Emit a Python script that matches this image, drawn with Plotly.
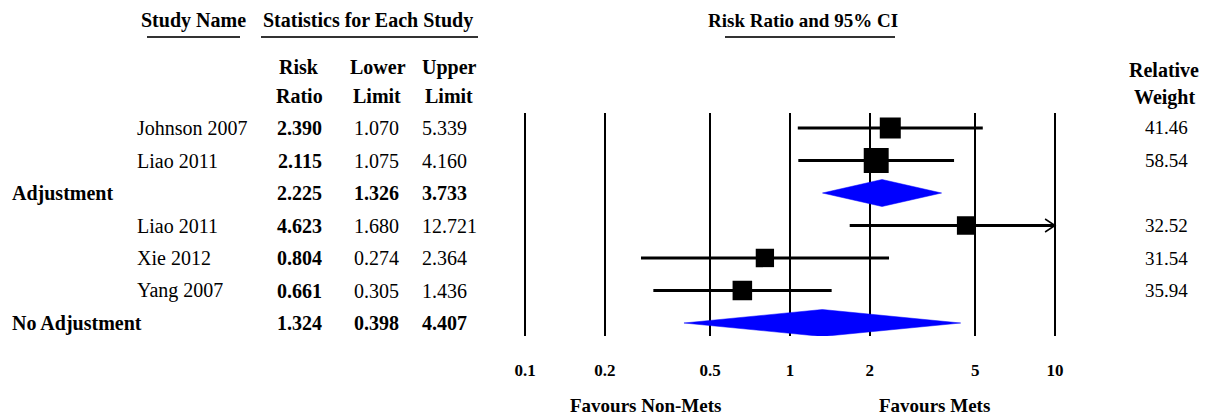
import math
import plotly.graph_objects as go

# ---------------- data ----------------
study_names = ["Johnson 2007", "Liao 2011", "Adjustment", "Liao 2011", "Xie 2012", "Yang 2007", "No Adjustment"]
is_summary = [False, False, True, False, False, False, True]
risk_ratio = [2.390, 2.115, 2.225, 4.623, 0.804, 0.661, 1.324]
lower_limit = [1.070, 1.075, 1.326, 1.680, 0.274, 0.305, 0.398]
upper_limit = [5.339, 4.160, 3.733, 12.721, 2.364, 1.436, 4.407]
relative_weight = [41.46, 58.54, None, 32.52, 31.54, 35.94, None]
tick_values = [0.1, 0.2, 0.5, 1, 2, 5, 10]
tick_labels = ["0.1", "0.2", "0.5", "1", "2", "5", "10"]
axis_min, axis_max = 0.1, 10
favours_left = "Favours Non-Mets"
favours_right = "Favours Mets"

# ---------------- layout constants ----------------
W, H = 1209, 417
FONT = "Liberation Serif"
PX_PER_DECADE = 265.0
X_LEFT_PX, X_RIGHT_PX = 525, 1055
Y_TOP_PX, Y_BOT_PX = 113, 336
ROW0_PX, ROW_STEP = 128, 32.5
BOX_SCALE = 3.26
DIAMOND_HALF = 0.415
CHEVRON_FACTOR = 1.09
CHEVRON_HALF = 0.2
PAD = 0.01

def px(x):
    return x / W

def py(y):
    return 1 - y / H

n = len(study_names)
fig = go.Figure()

for i in range(n):
    rr, lo, hi = risk_ratio[i], lower_limit[i], upper_limit[i]
    if is_summary[i]:
        fig.add_trace(go.Scatter(
            x=[lo, rr, hi, rr, lo],
            y=[i, i - DIAMOND_HALF, i, i + DIAMOND_HALF, i],
            mode="lines", fill="toself", fillcolor="#0000FF",
            line=dict(color="#0000FF", width=0.5), hoverinfo="skip", showlegend=False))
    else:
        fig.add_trace(go.Scatter(
            x=[max(lo, axis_min), min(hi, axis_max)], y=[i, i], mode="lines",
            line=dict(color="black", width=3), hoverinfo="skip", showlegend=False))
        fig.add_trace(go.Scatter(
            x=[rr], y=[i], mode="markers",
            marker=dict(symbol="square", color="black",
                        size=BOX_SCALE * math.sqrt(relative_weight[i]),
                        line=dict(width=0)),
            hoverinfo="skip", showlegend=False))
        if hi > axis_max:
            # open chevron at the axis limit showing the interval continues
            fig.add_trace(go.Scatter(
                x=[axis_max / CHEVRON_FACTOR, axis_max, axis_max / CHEVRON_FACTOR],
                y=[i - CHEVRON_HALF, i, i + CHEVRON_HALF], mode="lines",
                line=dict(color="black", width=1.5), cliponaxis=False,
                hoverinfo="skip", showlegend=False))


def add_text(text, x, y, yref="paper", anchor="center", size=20, bold=False):
    fig.add_annotation(
        text=f"<b>{text}</b>" if bold else text,
        x=px(x), xref="paper", y=(py(y) if yref == "paper" else y), yref=yref,
        xanchor=anchor, yanchor="middle", showarrow=False,
        font=dict(family=FONT, size=size, color="black"))

# headers
add_text("Study Name", 194, 20, bold=True)
add_text("Statistics for Each Study", 368, 20, bold=True)
add_text("Risk Ratio and 95% CI", 803, 20, bold=True, size=19)
add_text("Risk", 299, 67, bold=True)
add_text("Ratio", 299, 96, bold=True)
add_text("Lower", 378, 67, bold=True)
add_text("Limit", 377, 96, bold=True)
add_text("Upper", 449, 67, bold=True)
add_text("Limit", 449, 96, bold=True)
add_text("Relative", 1164, 70, bold=True)
add_text("Weight", 1164, 97, bold=True)

# rows
for i in range(n):
    s = is_summary[i]
    if s:
        add_text(study_names[i], 10, i, yref="y", anchor="left", bold=True)
    else:
        add_text(study_names[i], 135, i, yref="y", anchor="left")
    add_text(f"{risk_ratio[i]:.3f}", 324, i, yref="y", anchor="right", bold=True)
    add_text(f"{lower_limit[i]:.3f}", 376, i, yref="y", anchor="center", bold=s)
    add_text(f"{upper_limit[i]:.3f}", 420, i, yref="y", anchor="left", bold=s)
    if relative_weight[i] is not None:
        add_text(f"{relative_weight[i]:.2f}", 1166, i, yref="y", anchor="center", size=19)

add_text(favours_left, 645, 405, bold=True, size=19)
add_text(favours_right, 934, 405, bold=True, size=19)

for x0, x1 in [(147, 240), (261, 478), (725, 895)]:
    fig.add_shape(type="line", xref="paper", yref="paper",
                  x0=px(x0), x1=px(x1), y0=py(37), y1=py(37),
                  line=dict(color="#333333", width=2))

y_top_val = -(ROW0_PX - Y_TOP_PX) / ROW_STEP
y_bot_val = (n - 1) + (Y_BOT_PX - (ROW0_PX + (n - 1) * ROW_STEP)) / ROW_STEP

fig.update_layout(
    width=W, height=H, margin=dict(l=0, r=0, t=0, b=0, autoexpand=False),
    paper_bgcolor="white", plot_bgcolor="white",
    showlegend=False,
    xaxis=dict(
        type="log",
        range=[math.log10(axis_min) - PAD, math.log10(axis_max) + PAD],
        domain=[px(X_LEFT_PX - PAD * PX_PER_DECADE), px(X_RIGHT_PX + PAD * PX_PER_DECADE)],
        tickvals=tick_values, ticktext=[f"<b>{t}</b>" for t in tick_labels],
        tickfont=dict(family=FONT, size=17, color="black"),
        showgrid=True, gridcolor="black", gridwidth=2,
        showline=False, zeroline=False, ticks="",
        ticklabelstandoff=22, fixedrange=True),
    yaxis=dict(
        range=[y_bot_val, y_top_val],
        domain=[py(Y_BOT_PX), py(Y_TOP_PX)],
        visible=False, showgrid=False, zeroline=False, fixedrange=True),
)

fig.write_html("out.html", config={"displayModeBar": False},
               post_script="document.body.style.margin='0px';")
